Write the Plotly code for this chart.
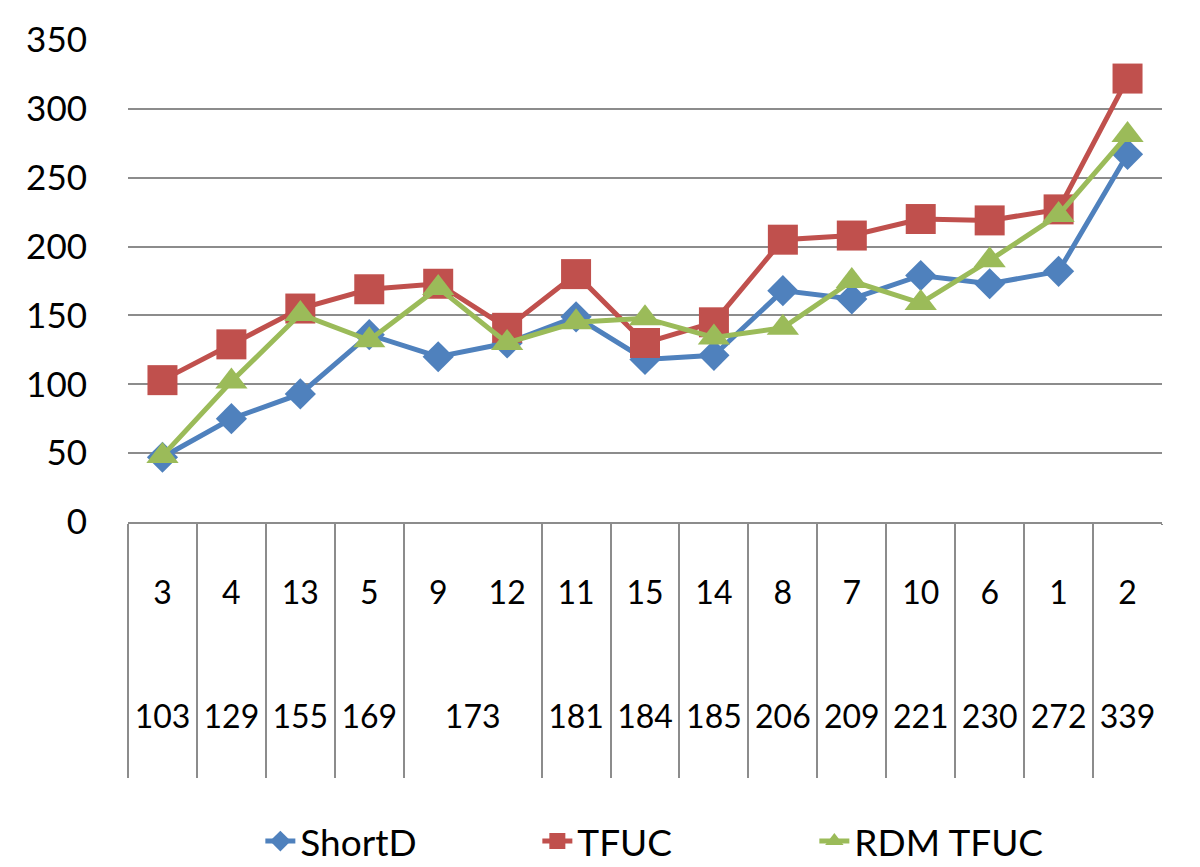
import plotly.graph_objects as go

# categories: inner level (top row) and outer level (bottom row)
inner = ["3", "4", "13", "5", "9", "12", "11", "15", "14", "8", "7", "10", "6", "1", "2"]
outer = ["103", "129", "155", "169", "173", "173", "181", "184", "185",
         "206", "209", "221", "230", "272", "339"]

# series values
short_d = [47, 75, 93, 136, 120, 130, 149, 118, 121, 168, 162, 179, 173, 182, 267]
tfuc = [103, 129, 155, 169, 173, 141, 180, 130, 145, 205, 208, 220, 219, 227, 322]
rdm_tfuc = [48, 102, 151, 132, 170, 130, 145, 148, 134, 141, 175, 159, 190, 223, 281]

FONT = "Lato"
GRID = "#8c8c8c"
NB = "\u00a0"

# blank lines push the second row down and stretch the table dividers
inner_txt = [v + ("<br>" + NB) * 3 for v in inner]
outer_txt = [v + "<br>" + NB for v in outer]

fig = go.Figure()

series = [
    ("ShortD", short_d, "#4F81BD", "diamond", 24),
    ("TFUC", tfuc, "#C0504D", "square", 30),
    ("RDM TFUC", rdm_tfuc, "#9BBB59", "triangle-up", 28),
]
for name, vals, col, sym, size in series:
    fig.add_trace(go.Scatter(
        x=[outer_txt, inner_txt], y=vals, name=name, mode="lines+markers",
        line=dict(color=col, width=5),
        marker=dict(symbol=sym, size=size, color=col),
    ))

# no divider at the far right end in the original
fig.add_shape(type="rect", xref="paper", yref="paper", x0=0.997, x1=1.01, y0=-0.6, y1=-0.006,
              fillcolor="white", line_width=0, layer="above")

fig.update_layout(
    width=1200, height=867,
    margin=dict(l=120, r=46, t=32, b=353, autoexpand=False),
    plot_bgcolor="white", paper_bgcolor="white",
    font=dict(family=FONT, size=35, color="black"),
    showlegend=True,
    legend=dict(orientation="h", x=0.128, xanchor="left", y=-0.663, yanchor="middle",
                font=dict(size=37), entrywidth=232, entrywidthmode="pixels"),
)
fig.update_yaxes(range=[0, 350], dtick=50, showgrid=True, gridcolor=GRID, gridwidth=2,
                 zeroline=False, ticks="", ticklabelstandoff=40, automargin=False)
fig.update_xaxes(type="multicategory", range=[-0.5, 14.5], showline=True, linecolor=GRID,
                 linewidth=2, showgrid=False, showdividers=True, dividercolor=GRID,
                 dividerwidth=2, ticks="", ticklabelstandoff=42, automargin=False,
                 tickfont=dict(size=32))

fig.write_html("out.html")
